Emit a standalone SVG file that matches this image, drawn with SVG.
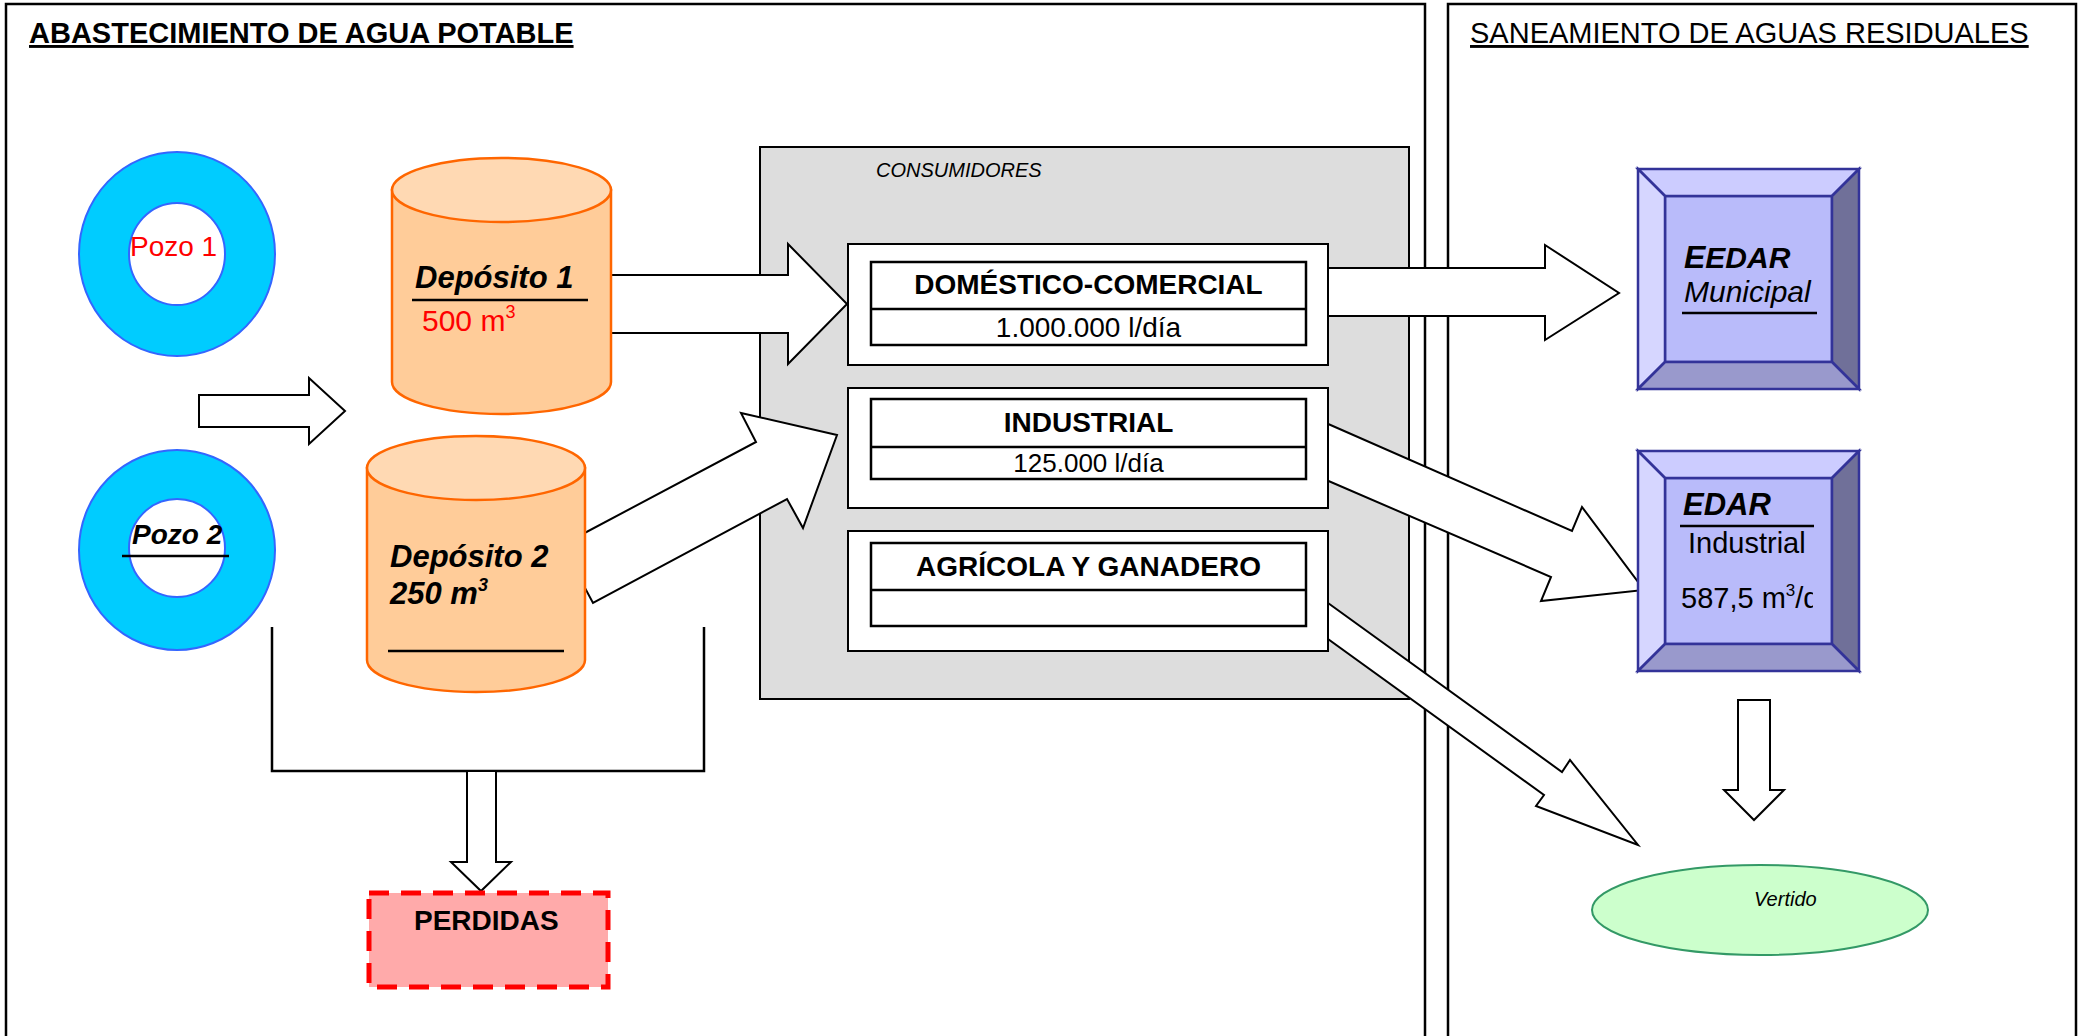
<svg xmlns="http://www.w3.org/2000/svg" width="2082" height="1036" viewBox="0 0 2082 1036">
<style>
.t{font-family:"Liberation Sans",Arial,sans-serif;fill:#000}
.b{font-weight:bold}
.i{font-style:italic}
.frame{fill:none;stroke:#000;stroke-width:2.5}
.arrow{fill:#fff;stroke:#000;stroke-width:2;stroke-linejoin:miter}
.pozo{fill:#00CCFF;stroke:#3366FF;stroke-width:2}
.hole{fill:#fff;stroke:#3366FF;stroke-width:2}
.cylbody{fill:#FFCC99;stroke:#FF6600;stroke-width:2.5}
.cyltop{fill:#FFD9B3;stroke:#FF6600;stroke-width:2.5}
.obox{fill:#fff;stroke:#000;stroke-width:2}
.ibox{fill:#fff;stroke:#000;stroke-width:2.5}
.bev{stroke:#333399;stroke-width:2.5;stroke-linejoin:miter}
.line{stroke:#000;stroke-width:2.5;fill:none}
</style>
<defs>
<clipPath id="clipEdar"><rect x="1665" y="478" width="148" height="166"/></clipPath>
</defs>

<g id="frames">
<rect class="frame" x="6" y="4" width="1419" height="1100"/>
<rect class="frame" x="1448" y="4" width="628" height="1100"/>
<text class="t b" x="29" y="43" font-size="29" text-decoration="underline">ABASTECIMIENTO DE AGUA POTABLE</text>
<text class="t" x="1470" y="43" font-size="29" text-decoration="underline">SANEAMIENTO DE AGUAS RESIDUALES</text>
</g>

<g id="consumidores">
<rect x="760" y="147" width="649" height="552" fill="#DDDDDD" stroke="#000" stroke-width="2"/>
<text class="t i" x="876" y="177" font-size="20">CONSUMIDORES</text>
</g>

<g id="connectors">
<polygon class="arrow" points="199,395 309,395 309,378 345,411 309,444 309,427 199,427"/>
<polygon class="arrow" points="580,275 788,275 788,244 847,304 788,364 788,333 580,333"/>
<polygon class="arrow" points="562,545 756,442 741,413 837,435 803,528 787,499 593,603"/>
<polygon class="arrow" points="1310,268 1545,268 1545,245 1619,293 1545,340 1545,316 1310,316"/>
<polygon class="arrow" points="1310,416 1572,531 1582,507 1644,590 1541,601 1551,577 1310,473"/>
<polygon class="arrow" points="1310,590 1562,772 1570,760 1638,845 1536,806 1544,795 1310,626"/>
<polyline class="line" points="272,627 272,771 704,771 704,627" stroke-width="2"/>
<polygon class="arrow" points="467,771 496,771 496,862 511,862 481,891 451,862 467,862"/>
<polygon class="arrow" points="1738,700 1770,700 1770,790 1784,790 1754,820 1724,790 1738,790"/>
</g>

<g id="pozo1">
<ellipse class="pozo" cx="177" cy="254" rx="98" ry="102"/>
<ellipse class="hole" cx="177" cy="254" rx="48" ry="51"/>
<text class="t" x="130" y="256" font-size="28" style="fill:#FF0000">Pozo 1</text>
</g>

<g id="pozo2">
<ellipse class="pozo" cx="177" cy="550" rx="98" ry="100"/>
<ellipse class="hole" cx="177" cy="548" rx="48" ry="49"/>
<text class="t b i" x="132" y="544" font-size="28">Pozo 2</text>
<line class="line" x1="122" y1="556" x2="229" y2="556"/>
</g>

<g id="deposito1">
<path class="cylbody" d="M392,190 V382 A109.5,32 0 0 0 611,382 V190 Z"/>
<ellipse class="cyltop" cx="501.5" cy="190" rx="109.5" ry="32"/>
<text class="t b i" x="415" y="288" font-size="31">Depósito 1</text>
<line class="line" x1="412" y1="300" x2="588" y2="300"/>
<text class="t" x="422" y="331" font-size="30" style="fill:#FF0000">500 m<tspan font-size="18" dy="-13">3</tspan></text>
</g>

<g id="deposito2">
<path class="cylbody" d="M367,468 V660 A109,32 0 0 0 585,660 V468 Z"/>
<ellipse class="cyltop" cx="476" cy="468" rx="109" ry="32"/>
<text class="t b i" x="390" y="567" font-size="31">Depósito 2</text>
<text class="t b i" x="390" y="604" font-size="31">250 m<tspan font-size="18" dy="-13">3</tspan></text>
<line class="line" x1="388" y1="651" x2="564" y2="651"/>
</g>

<g id="domestico">
<rect class="obox" x="848" y="244" width="480" height="121"/>
<rect class="ibox" x="871" y="262" width="435" height="83"/>
<line class="line" x1="871" y1="309" x2="1306" y2="309"/>
<text class="t b" x="1088.5" y="294" font-size="28" text-anchor="middle">DOMÉSTICO-COMERCIAL</text>
<text class="t" x="1088.5" y="337" font-size="28" text-anchor="middle">1.000.000 l/día</text>
</g>

<g id="industrial">
<rect class="obox" x="848" y="388" width="480" height="120"/>
<rect class="ibox" x="871" y="399" width="435" height="80"/>
<line class="line" x1="871" y1="447" x2="1306" y2="447"/>
<text class="t b" x="1088.5" y="432" font-size="28" text-anchor="middle">INDUSTRIAL</text>
<text class="t" x="1088.5" y="472" font-size="26" text-anchor="middle">125.000 l/día</text>
</g>

<g id="agricola">
<rect class="obox" x="848" y="531" width="480" height="120"/>
<rect class="ibox" x="871" y="543" width="435" height="83"/>
<line class="line" x1="871" y1="590" x2="1306" y2="590"/>
<text class="t b" x="1088.5" y="576" font-size="28" text-anchor="middle">AGRÍCOLA Y GANADERO</text>
</g>

<g id="eedar">
<rect x="1665" y="196" width="167" height="166" fill="#B9BBFA" class="bev"/>
<polygon class="bev" fill="#CCCCFF" points="1638,169 1859,169 1832,196 1665,196"/>
<polygon class="bev" fill="#D6D6FF" points="1638,169 1665,196 1665,362 1638,389"/>
<polygon class="bev" fill="#707099" points="1859,169 1859,389 1832,362 1832,196"/>
<polygon class="bev" fill="#9999CC" points="1638,389 1665,362 1832,362 1859,389"/>
<text class="t b i" x="1684" y="268" font-size="30"><tspan font-size="32">E</tspan>EDAR</text>
<text class="t i" x="1684" y="302" font-size="30">Municipal</text>
<line class="line" x1="1682" y1="313" x2="1817" y2="313"/>
</g>

<g id="edar">
<rect x="1665" y="478" width="167" height="166" fill="#B9BBFA" class="bev"/>
<polygon class="bev" fill="#CCCCFF" points="1638,451 1859,451 1832,478 1665,478"/>
<polygon class="bev" fill="#D6D6FF" points="1638,451 1665,478 1665,644 1638,671"/>
<polygon class="bev" fill="#707099" points="1859,451 1859,671 1832,644 1832,478"/>
<polygon class="bev" fill="#9999CC" points="1638,671 1665,644 1832,644 1859,671"/>
<text class="t b i" x="1683" y="515" font-size="31">EDAR</text>
<line class="line" x1="1680" y1="526" x2="1814" y2="526"/>
<text class="t" x="1688" y="553" font-size="29">Industrial</text>
<g clip-path="url(#clipEdar)">
<text class="t" x="1681" y="608" font-size="29">587,5 m<tspan font-size="17" dy="-12">3</tspan><tspan dy="12">/día</tspan></text>
</g>
</g>

<g id="vertido">
<ellipse cx="1760" cy="910" rx="168" ry="45" fill="#CCFFCC" stroke="#339966" stroke-width="2"/>
<text class="t i" x="1754" y="906" font-size="20">Vertido</text>
</g>

<g id="perdidas">
<rect x="369" y="893" width="239" height="94" fill="#FFAAAA" stroke="#FF0000" stroke-width="5" stroke-dasharray="20 12"/>
<text class="t b" x="414" y="930" font-size="28">PERDIDAS</text>
</g>
</svg>
